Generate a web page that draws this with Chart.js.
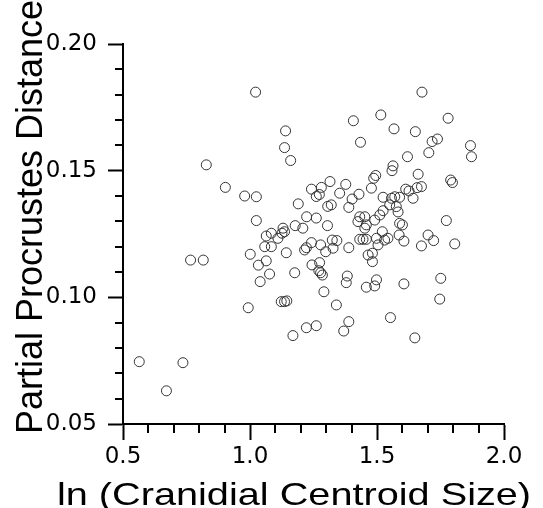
<!DOCTYPE html>
<html>
<head>
<meta charset="utf-8">
<script src="https://cdn.jsdelivr.net/npm/chart.js@4"></script>
<style>
  html, body { margin: 0; padding: 0; background: #fff; }
  canvas { display: block; }
</style>
</head>
<body>
<canvas id="grafico" width="543" height="508"></canvas>
<script>
// ln (cranidial centroid size) for each specimen
const centroidSize = [
  0.564, 0.736, 0.671, 0.766, 0.816, 0.828, 0.903, 0.979, 1.025, 1.022,
  1.025, 1.001, 1.033, 1.040, 0.993, 1.140, 1.136, 1.160, 1.407, 1.515,
  1.435, 1.190, 1.242, 1.281, 1.315, 1.261, 1.273, 1.353, 1.377, 1.402,
  1.429, 1.306, 1.320, 1.389, 1.478, 1.487, 1.495, 1.524, 1.223, 1.261,
  1.178, 1.208, 1.305, 1.130, 1.136, 1.126, 1.064, 1.084, 1.110, 1.058,
  1.084, 1.143, 1.064, 1.077, 1.176, 1.215, 1.222, 1.242, 1.278, 1.298,
  1.324, 1.342, 1.327, 1.389, 1.432, 1.445, 1.458, 1.432, 1.452, 1.458,
  1.425, 1.491, 1.511, 1.524, 1.452, 1.498, 1.504, 1.521, 1.530, 1.482,
  1.482, 1.465, 1.244, 1.274, 1.278, 1.285, 1.271, 1.383, 1.379, 1.291,
  1.458, 1.491, 1.498, 1.340, 1.123, 1.136, 1.145, 1.222, 1.261, 1.169,
  1.389, 1.369,
  1.677, 1.780, 1.567, 1.651, 1.717, 1.738, 1.704, 1.868, 1.872, 1.620,
  1.563, 1.559, 1.662, 1.790, 1.797, 1.613, 1.626, 1.658, 1.675, 1.642,
  1.557, 1.570, 1.589, 1.550, 1.576, 1.583, 1.773, 1.589, 1.600, 1.543,
  1.587, 1.606, 1.701, 1.723, 1.675, 1.806, 1.751, 1.606, 1.747, 1.553, 1.649
];

// partial Procrustes distance, same order
const procrustesDist = [
  0.0746, 0.0742, 0.0631, 0.1147, 0.1147, 0.1523, 0.1434, 0.1400, 0.1397, 0.1810,
  0.1303, 0.1170, 0.1127, 0.1062, 0.0959, 0.1657, 0.1591, 0.1540, 0.1697, 0.1720,
  0.1612, 0.1369, 0.1427, 0.1434, 0.1457, 0.1398, 0.1406, 0.1411, 0.1446, 0.1388,
  0.1407, 0.1359, 0.1365, 0.1355, 0.1431, 0.1470, 0.1481, 0.1395, 0.1318, 0.1313,
  0.1283, 0.1273, 0.1283, 0.1273, 0.1259, 0.1253, 0.1242, 0.1253, 0.1233, 0.1200,
  0.1200, 0.1176, 0.1144, 0.1092, 0.1097, 0.1187, 0.1196, 0.1216, 0.1207, 0.1180,
  0.1226, 0.1224, 0.1194, 0.1196, 0.1229, 0.1229, 0.1229, 0.1318, 0.1318, 0.1286,
  0.1299, 0.1305, 0.1325, 0.1342, 0.1273, 0.1233, 0.1207, 0.1259, 0.1226, 0.1174,
  0.1141, 0.1167, 0.1128, 0.1137, 0.1097, 0.1088, 0.1105, 0.1084, 0.1058, 0.1022,
  0.1040, 0.1045, 0.1069, 0.0970, 0.0983, 0.0983, 0.0986, 0.0880, 0.0888, 0.0849,
  0.0904, 0.0867,
  0.1810, 0.1707, 0.1665, 0.1654, 0.1615, 0.1625, 0.1571, 0.1599, 0.1555, 0.1555,
  0.1519, 0.1500, 0.1486, 0.1463, 0.1453, 0.1427, 0.1420, 0.1433, 0.1437, 0.1391,
  0.1391, 0.1397, 0.1395, 0.1365, 0.1358, 0.1337, 0.1303, 0.1292, 0.1286, 0.1233,
  0.1246, 0.1222, 0.1246, 0.1224, 0.1203, 0.1211, 0.1075, 0.1053, 0.0993, 0.0920, 0.0840
];

const xTicks = [0.5, 1.0, 1.5, 2.0];
const yTicks = [0.05, 0.10, 0.15, 0.20];
const xTitle = 'ln (Cranidial Centroid Size)';
const yTitle = 'Partial Procrustes Distance';

const puntos = centroidSize.map((x, i) => ({ x, y: procrustesDist[i] }));

// minor ticks (every 0.1 / 0.01) and the two axis titles
const extras = {
  id: 'extras',
  afterDraw(chart) {
    const { ctx, chartArea, scales } = chart;
    ctx.save();
    ctx.strokeStyle = '#000';
    ctx.lineWidth = 2;
    for (let k = 6; k < 20; k++) {
      if (k % 5 === 0) continue;
      const px = Math.round(scales.x.getPixelForValue(k / 10));
      ctx.beginPath();
      ctx.moveTo(px, chartArea.bottom);
      ctx.lineTo(px, chartArea.bottom + 9);
      ctx.stroke();
      const py = Math.round(scales.y.getPixelForValue(k / 100));
      ctx.beginPath();
      ctx.moveTo(chartArea.left, py);
      ctx.lineTo(chartArea.left - 8, py);
      ctx.stroke();
    }

    ctx.fillStyle = '#000';
    ctx.textAlign = 'center';
    ctx.textBaseline = 'alphabetic';

    ctx.save();
    ctx.translate(294, 505);
    ctx.scale(1.24, 1);
    ctx.font = '32px "Liberation Sans"';
    ctx.fillText(xTitle, 0, 0);
    ctx.restore();

    ctx.save();
    ctx.translate(42, 217);
    ctx.rotate(-Math.PI / 2);
    ctx.font = '36px "Liberation Sans"';
    ctx.fillText(yTitle, 0, 0);
    ctx.restore();

    ctx.restore();
  }
};

const ctx = document.getElementById('grafico').getContext('2d');

new Chart(ctx, {
  type: 'scatter',
  data: {
    datasets: [{
      data: puntos,
      pointRadius: 5,
      pointHoverRadius: 5,
      pointBorderWidth: 1,
      borderColor: '#333',
      backgroundColor: 'rgba(0,0,0,0)'
    }]
  },
  options: {
    responsive: false,
    animation: false,
    layout: { padding: { left: 0, right: 39, top: 44, bottom: 0 } },
    plugins: { legend: { display: false }, tooltip: { enabled: false } },
    scales: {
      x: {
        type: 'linear',
        min: 0.5,
        max: 2.0,
        afterBuildTicks: s => { s.ticks = xTicks.map(v => ({ value: v })); },
        afterFit: s => { s.height = 84; },
        ticks: {
          color: '#000',
          font: { family: 'DejaVu Sans', size: 23 },
          padding: 3,
          maxRotation: 0,
          callback: v => Number(v).toFixed(1)
        },
        grid: { drawOnChartArea: false, tickLength: 16, tickWidth: 2, tickColor: '#000' },
        border: { color: '#000', width: 2 }
      },
      y: {
        type: 'linear',
        min: 0.05,
        max: 0.20,
        afterBuildTicks: s => { s.ticks = yTicks.map(v => ({ value: v })); },
        afterFit: s => { s.width = 123; },
        ticks: {
          color: '#000',
          font: { family: 'DejaVu Sans', size: 23 },
          padding: 11,
          callback: v => Number(v).toFixed(2)
        },
        grid: { drawOnChartArea: false, tickLength: 15, tickWidth: 2, tickColor: '#000' },
        border: { color: '#000', width: 2 }
      }
    }
  },
  plugins: [extras]
});
</script>
</body>
</html>
